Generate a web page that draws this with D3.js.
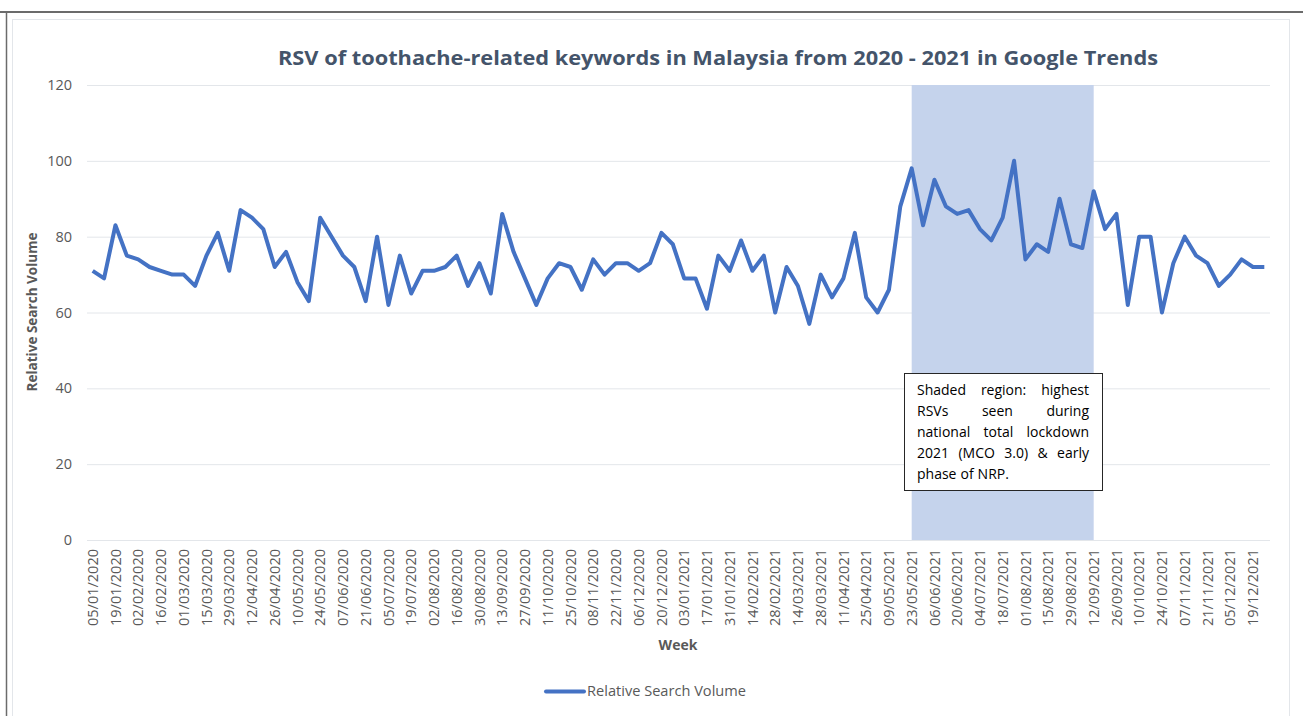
<!DOCTYPE html>
<html>
<head>
<meta charset="utf-8">
<script src="https://cdn.jsdelivr.net/npm/d3@7"></script>
<style>
  body { margin: 0; background: #fff; }
  text { font-family: "Open Sans", "Noto Sans", sans-serif; }
</style>
</head>
<body>
<div id="frame1"></div>
<script>
// week labels (Sunday of each week)
const weeks = [
  "05/01/2020","12/01/2020","19/01/2020","26/01/2020","02/02/2020","09/02/2020","16/02/2020","23/02/2020",
  "01/03/2020","08/03/2020","15/03/2020","22/03/2020","29/03/2020","05/04/2020","12/04/2020","19/04/2020",
  "26/04/2020","03/05/2020","10/05/2020","17/05/2020","24/05/2020","31/05/2020","07/06/2020","14/06/2020",
  "21/06/2020","28/06/2020","05/07/2020","12/07/2020","19/07/2020","26/07/2020","02/08/2020","09/08/2020",
  "16/08/2020","23/08/2020","30/08/2020","06/09/2020","13/09/2020","20/09/2020","27/09/2020","04/10/2020",
  "11/10/2020","18/10/2020","25/10/2020","01/11/2020","08/11/2020","15/11/2020","22/11/2020","29/11/2020",
  "06/12/2020","13/12/2020","20/12/2020","27/12/2020",
  "03/01/2021","10/01/2021","17/01/2021","24/01/2021","31/01/2021","07/02/2021","14/02/2021","21/02/2021",
  "28/02/2021","07/03/2021","14/03/2021","21/03/2021","28/03/2021","04/04/2021","11/04/2021","18/04/2021",
  "25/04/2021","02/05/2021","09/05/2021","16/05/2021","23/05/2021","30/05/2021","06/06/2021","13/06/2021",
  "20/06/2021","27/06/2021","04/07/2021","11/07/2021","18/07/2021","25/07/2021","01/08/2021","08/08/2021",
  "15/08/2021","22/08/2021","29/08/2021","05/09/2021","12/09/2021","19/09/2021","26/09/2021","03/10/2021",
  "10/10/2021","17/10/2021","24/10/2021","31/10/2021","07/11/2021","14/11/2021","21/11/2021","28/11/2021",
  "05/12/2021","12/12/2021","19/12/2021","26/12/2021"
];

const rsv = [
  71,69,83,75,74,72,71,70,70,67,75,81,71,87,85,82,72,76,68,63,85,80,75,72,63,80,
  62,75,65,71,71,72,75,67,73,65,86,76,69,62,69,73,72,66,74,70,73,73,71,73,81,
  78,69,69,61,75,71,79,71,75,60,72,67,57,70,64,69,81,64,60,66,88,98,83,95,
  88,86,87,82,79,85,100,74,78,76,90,78,77,92,82,86,62,80,80,60,73,80,75,73,67,70,74,72,72
];

const yTicks = [0, 20, 40, 60, 80, 100, 120];
const shadeFrom = "23/05/2021", shadeTo = "12/09/2021";
const noteLines = [
  "Shaded region: highest",
  "RSVs seen during",
  "national total lockdown",
  "2021 (MCO 3.0) & early",
  "phase of NRP."
];

const W = 1303, H = 716;
const margin = {top: 85, right: 33, bottom: 176, left: 87};

const svg = d3.select("#frame1").append("svg")
  .attr("width", W).attr("height", H);

// outer frame lines
svg.append("line").attr("x1", 0).attr("x2", W).attr("y1", 12).attr("y2", 12)
  .attr("stroke", "#6b6b6b").attr("stroke-width", 2);
svg.append("line").attr("x1", 6.5).attr("x2", 6.5).attr("y1", 12).attr("y2", H)
  .attr("stroke", "#6b6b6b").attr("stroke-width", 1.5);
svg.append("rect").attr("x", 12.5).attr("y", 19.5).attr("width", 1277).attr("height", 720)
  .attr("fill", "none").attr("stroke", "#e3e6ea");

const x = d3.scaleBand().domain(weeks).range([margin.left, W - margin.right]);
const y = d3.scaleLinear().domain([0, 120]).range([H - margin.bottom, margin.top]);
const cx = d => x(d) + x.bandwidth() / 2;

// gridlines
svg.append("g").selectAll("line").data(yTicks).join("line")
  .attr("x1", margin.left).attr("x2", W - margin.right)
  .attr("y1", d => y(d) + 0.5).attr("y2", d => y(d) + 0.5)
  .attr("stroke", "#e3e6ea");

// shaded region
svg.append("rect")
  .attr("x", cx(shadeFrom)).attr("width", cx(shadeTo) - cx(shadeFrom))
  .attr("y", y(120)).attr("height", y(0) - y(120))
  .attr("fill", "#c5d3ec");

// y axis labels
svg.append("g").selectAll("text").data(yTicks).join("text")
  .attr("x", 72).attr("y", d => y(d)).attr("dy", "0.35em")
  .attr("text-anchor", "end").attr("font-size", 14.5).attr("fill", "#595959")
  .text(d => d);

// x axis labels
const xAxis = svg.append("g")
  .attr("transform", `translate(0,${H - margin.bottom})`)
  .call(d3.axisBottom(x).tickValues(weeks.filter((d, i) => i % 2 === 0)).tickSize(0));
xAxis.select(".domain").remove();
xAxis.selectAll("text")
  .attr("font-family", "'Open Sans', sans-serif")
  .attr("font-size", 14.5).attr("fill", "#595959")
  .attr("transform", "rotate(-90)")
  .attr("x", -9).attr("y", 0).attr("dy", "0.35em")
  .style("text-anchor", "end");

// line
svg.append("path").datum(rsv)
  .attr("fill", "none").attr("stroke", "#4472c4").attr("stroke-width", 4)
  .attr("stroke-linejoin", "round")
  .attr("d", d3.line().x((d, i) => cx(weeks[i])).y(d => y(d)));

// title
svg.append("text").attr("x", 718).attr("y", 65).attr("text-anchor", "middle")
  .attr("font-size", 20).attr("font-weight", "bold").attr("fill", "#44546a")
  .attr("textLength", 880).attr("lengthAdjust", "spacingAndGlyphs")
  .text("RSV of toothache-related keywords in Malaysia from 2020 - 2021 in Google Trends");

// axis titles
svg.append("text").attr("transform", "translate(37,312) rotate(-90)")
  .attr("text-anchor", "middle").attr("font-size", 14).attr("font-weight", "bold")
  .attr("fill", "#595959").attr("textLength", 159).attr("lengthAdjust", "spacingAndGlyphs")
  .text("Relative Search Volume");
svg.append("text").attr("x", 678).attr("y", 650).attr("text-anchor", "middle")
  .attr("font-size", 14).attr("font-weight", "bold").attr("fill", "#595959")
  .text("Week");

// legend
svg.append("line").attr("x1", 546).attr("x2", 584).attr("y1", 691.5).attr("y2", 691.5)
  .attr("stroke", "#4472c4").attr("stroke-width", 4).attr("stroke-linecap", "round");
svg.append("text").attr("x", 587).attr("y", 696).attr("font-size", 14.5)
  .attr("fill", "#595959").attr("textLength", 159).attr("lengthAdjust", "spacingAndGlyphs")
  .text("Relative Search Volume");

// annotation box with justified text
const box = {x: 904.5, y: 373.5, w: 198, h: 117};
svg.append("rect").attr("x", box.x).attr("y", box.y).attr("width", box.w).attr("height", box.h)
  .attr("fill", "#fff").attr("stroke", "#262626").attr("stroke-width", 1);
const left = 917, right = 1089;
noteLines.forEach((line, li) => {
  const words = line.split(" ");
  const ty = 395 + li * 21;
  const g = svg.append("g");
  const nodes = words.map(w => g.append("text").attr("y", ty).attr("font-size", 14)
    .attr("fill", "#000").text(w));
  const widths = nodes.map(n => n.node().getComputedTextLength());
  const total = d3.sum(widths);
  const last = li === noteLines.length - 1;
  const gap = last ? 4 : (right - left - total) / (words.length - 1);
  let px = left;
  nodes.forEach((n, i) => { n.attr("x", px); px += widths[i] + gap; });
});
</script>
</body>
</html>
